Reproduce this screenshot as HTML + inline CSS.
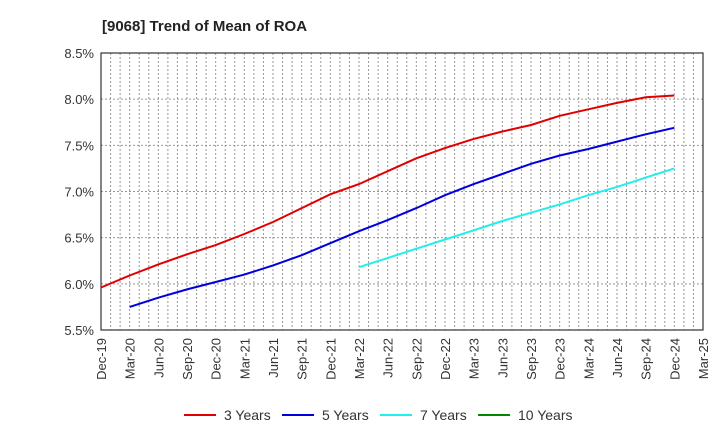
<!DOCTYPE html>
<html><head><meta charset="utf-8"><style>
body{margin:0;background:#fff;font-family:"Liberation Sans",Arial,sans-serif}
</style></head><body>
<svg id="c" width="720" height="440" xmlns="http://www.w3.org/2000/svg">
<text x="102" y="31" font-size="15" font-weight="bold" fill="#222">[9068]  Trend of Mean of ROA</text>
<g id="grid"></g><g id="axes"></g><g id="series"></g><g id="legend"></g>
</svg>
<script>
const categories=["Dec-19","Mar-20","Jun-20","Sep-20","Dec-20","Mar-21","Jun-21","Sep-21","Dec-21","Mar-22","Jun-22","Sep-22","Dec-22","Mar-23","Jun-23","Sep-23","Dec-23","Mar-24","Jun-24","Sep-24","Dec-24","Mar-25"];
const yTicks=[5.5,6.0,6.5,7.0,7.5,8.0,8.5];
const s3=[5.96,6.09,6.21,6.32,6.42,6.54,6.67,6.82,6.97,7.08,7.22,7.36,7.47,7.57,7.65,7.72,7.82,7.89,7.96,8.02,8.04];
const s5=[null,5.75,5.85,5.94,6.02,6.10,6.20,6.31,6.44,6.57,6.69,6.82,6.96,7.08,7.19,7.30,7.39,7.46,7.54,7.62,7.69];
const s7=[null,null,null,null,null,null,null,null,null,6.18,6.28,6.38,6.48,6.58,6.68,6.77,6.86,6.96,7.05,7.15,7.25];
const s10=[];
const L=101,R=703,T=53,B=330,ymin=5.5,ymax=8.5;
const xs=i=>L+(R-L)*i/(categories.length-1);
const ys=v=>B-(v-ymin)/(ymax-ymin)*(B-T);
const NS="http://www.w3.org/2000/svg";
function mk(t,a,p){const e=document.createElementNS(NS,t);for(const k in a)e.setAttribute(k,a[k]);p.appendChild(e);return e;}
const g=document.getElementById('grid'),ax=document.getElementById('axes');
for(let m=1;m<(categories.length-1)*3;m++){const x=L+(R-L)*m/((categories.length-1)*3);
const l=mk('line',{x1:x,x2:x,y1:T,y2:B,stroke:'#999','stroke-dasharray':'2,2','stroke-width':1},g);
}
yTicks.forEach(v=>{const y=ys(v);
const l=mk('line',{x1:L,x2:R,y1:y,y2:y,stroke:'#999','stroke-dasharray':'2,2','stroke-width':1},g);

const t=mk('text',{x:L-7,y:y+5,'text-anchor':'end','font-size':13,fill:'#333'},ax);t.textContent=v.toFixed(1)+'%';
});
const fr=mk('rect',{x:L,y:T,width:R-L,height:B-T,fill:'none',stroke:'#333','stroke-width':1.2},ax);

categories.forEach((c,i)=>{const x=xs(i);
const t=mk('text',{x:x+5,y:B+8,'text-anchor':'end','font-size':13,fill:'#333',transform:`rotate(-90 ${x+5} ${B+8})`},ax);t.textContent=c;
});
const sg=document.getElementById('series');
[[s3,'#e00000','3 Years'],[s5,'#0000dd','5 Years'],[s7,'#22eeee','7 Years'],[s10,'#008800','10 Years']].forEach(([d,col,n],k)=>{
const pts=d.map((v,i)=>v==null?null:xs(i).toFixed(1)+','+ys(v).toFixed(1)).filter(p=>p);
if(pts.length){const p=mk('polyline',{points:pts.join(' '),fill:'none',stroke:col,'stroke-width':2},sg);
}
const lx=184+k*98;const lg=document.getElementById('legend');
const ln=mk('line',{x1:lx,x2:lx+32,y1:415,y2:415,stroke:col,'stroke-width':2},lg);

const t=mk('text',{x:lx+40,y:420,'font-size':14,fill:'#333'},lg);t.textContent=n;
});
</script>
</body></html>
